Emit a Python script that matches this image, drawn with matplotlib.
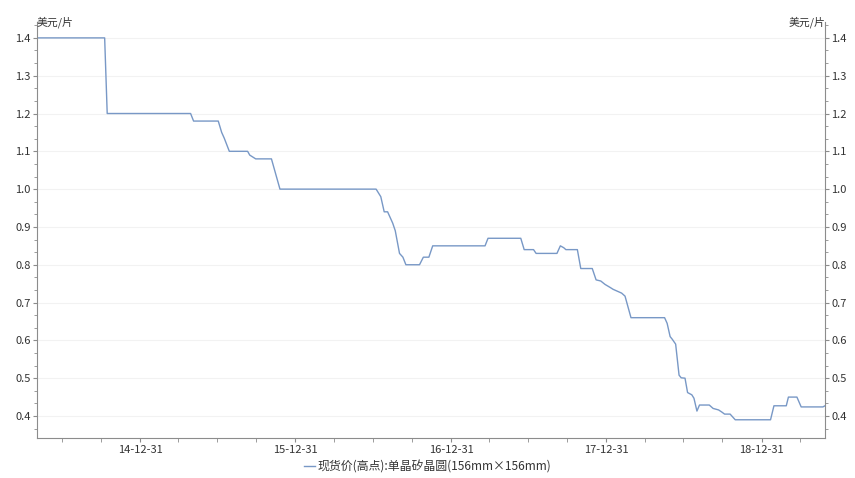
import matplotlib
matplotlib.use("Agg")
import matplotlib.pyplot as plt
import matplotlib.dates as mdates
from matplotlib.ticker import MultipleLocator, AutoMinorLocator, FormatStrFormatter
import numpy as np

plt.rcParams['font.family'] = ['Noto Sans CJK SC', 'DejaVu Sans']

dates = [
    "2014-05-03", "2014-10-09", "2014-10-15", "2015-04-29", "2015-05-06", "2015-07-03",
    "2015-07-11", "2015-07-17", "2015-07-29", "2015-09-10", "2015-09-15", "2015-09-29",
    "2015-11-05", "2015-11-25", "2016-07-08", "2016-07-19", "2016-07-27", "2016-08-04",
    "2016-08-16", "2016-08-22", "2016-09-01", "2016-09-09", "2016-09-16", "2016-10-18",
    "2016-10-27", "2016-11-09", "2016-11-18", "2017-03-21", "2017-03-28", "2017-06-13",
    "2017-06-21", "2017-07-13", "2017-07-19", "2017-09-06", "2017-09-14", "2017-09-22",
    "2017-09-27", "2017-10-24", "2017-11-01", "2017-11-28", "2017-12-07", "2017-12-18",
    "2017-12-28", "2018-01-09", "2018-01-16", "2018-01-28", "2018-02-05", "2018-02-13",
    "2018-02-27", "2018-05-17", "2018-05-23", "2018-05-30", "2018-06-04", "2018-06-12",
    "2018-06-20", "2018-06-25", "2018-07-04", "2018-07-10", "2018-07-20", "2018-07-25",
    "2018-08-01", "2018-08-07", "2018-08-30", "2018-09-08", "2018-09-21", "2018-09-29",
    "2018-10-05", "2018-10-18", "2018-10-30", "2019-01-21", "2019-01-29", "2019-02-27",
    "2019-03-04", "2019-03-24", "2019-04-03", "2019-05-24", "2019-05-29",
]
values = [
    1.40, 1.40, 1.20, 1.20, 1.18, 1.18,
    1.15, 1.135, 1.10, 1.10, 1.09, 1.08,
    1.08, 1.00, 1.00, 0.98, 0.94, 0.94,
    0.91, 0.89, 0.83, 0.82, 0.80, 0.80,
    0.82, 0.82, 0.85, 0.85, 0.87, 0.87,
    0.84, 0.84, 0.83, 0.83, 0.85, 0.845,
    0.84, 0.84, 0.79, 0.79, 0.76, 0.757,
    0.748, 0.74, 0.735, 0.729, 0.725, 0.717,
    0.66, 0.66, 0.645, 0.61, 0.603, 0.59,
    0.508, 0.501, 0.50, 0.462, 0.456, 0.447,
    0.413, 0.429, 0.429, 0.42, 0.416, 0.41,
    0.405, 0.405, 0.39, 0.39, 0.427, 0.427,
    0.45, 0.45, 0.424, 0.424, 0.427,
]
series_name = "现货价(高点):单晶矽晶圆(156mm×156mm)"
unit = "美元/片"

x = np.array(dates, dtype="datetime64[D]")
y = np.array(values)

fig = plt.figure(figsize=(8.55, 4.78), dpi=100)
ax = fig.add_axes([37/855, 1-438/478, (825-37)/855, (438-22)/478])

ax.plot(x, y, color="#7898c6", lw=1.0, label=series_name)

ax.set_xlim(np.datetime64("2014-05-03"), np.datetime64("2019-05-29"))
ax.set_ylim(0.3418, 1.442)

ax.yaxis.set_major_locator(MultipleLocator(0.1))
ax.yaxis.set_minor_locator(AutoMinorLocator(3))
ax.yaxis.set_major_formatter(FormatStrFormatter('%.1f'))

ax.xaxis.set_major_locator(mdates.RRuleLocator(mdates.rrulewrapper(mdates.YEARLY, bymonth=12, bymonthday=31)))
ax.xaxis.set_minor_locator(mdates.RRuleLocator(mdates.rrulewrapper(mdates.MONTHLY, bymonth=(3, 6, 9, 12), bymonthday=-1)))
ax.xaxis.set_major_formatter(mdates.DateFormatter('%y-%m-%d'))

ax.grid(axis='y', which='major', color='#f2f2f2', lw=0.8)
ax.set_axisbelow(True)

for s in ['left', 'right', 'bottom']:
    ax.spines[s].set_color('#8c8c8c')
    ax.spines[s].set_linewidth(0.8)
ax.spines['top'].set_visible(False)

ax.tick_params(axis='y', which='both', left=True, right=True, labelleft=True, labelright=True,
               direction='out', colors='#8c8c8c', labelcolor='#333333', labelsize=8, pad=1.5)
ax.tick_params(axis='y', which='major', length=3)
ax.tick_params(axis='y', which='minor', length=2)
ax.tick_params(axis='x', which='both', direction='out', colors='#8c8c8c', labelcolor='#333333',
               labelsize=8, length=3, pad=2)

ax.text(0.0, 1.0, unit, transform=ax.transAxes, ha='left', va='center', fontsize=7.8, color='#333333')
ax.text(1.0, 1.0, unit, transform=ax.transAxes, ha='right', va='center', fontsize=7.8, color='#333333')

fig.legend(loc='center', bbox_to_anchor=(0.5, 1 - 467/478), frameon=False, fontsize=8.6,
           handlelength=0.9, handletextpad=0.2, labelcolor='#333333', borderpad=0, borderaxespad=0)

fig.savefig("out.png", dpi=100)
